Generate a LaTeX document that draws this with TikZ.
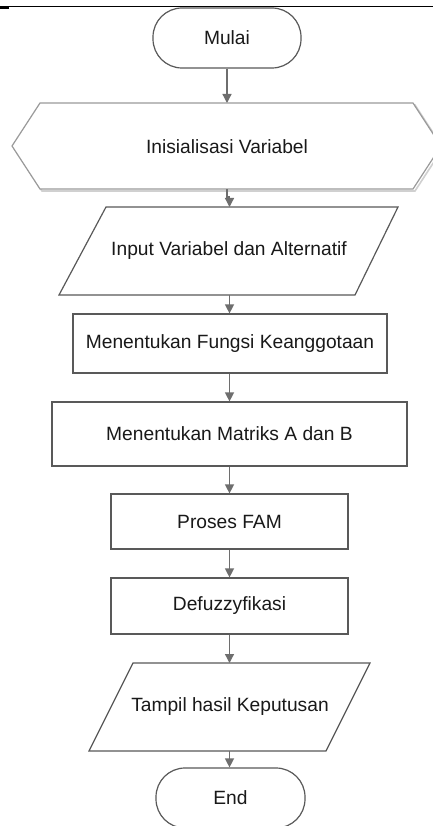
\documentclass[tikz,border=0pt]{standalone}
\usepackage{fontspec}
\setmainfont{Liberation Sans}
\usetikzlibrary{arrows.meta}
\definecolor{boxc}{HTML}{595959}
\definecolor{arrc}{HTML}{6E6E6E}
\definecolor{hexc}{HTML}{9A9A9A}
\definecolor{hexsh}{HTML}{D0D0D0}
\begin{document}
\begin{tikzpicture}[x=1pt,y=-1pt,
  txt/.style={inner sep=0pt, font=\fontsize{19.2}{23}\selectfont, text=black!90},
  box/.style={txt, draw=boxc, line width=1.2pt, fill=white},
  term/.style={box, rounded corners=29pt},
  shapeline/.style={draw=boxc, line width=1.2pt, fill=white},
  arr/.style={draw=arrc, line width=1.3pt, -{Triangle[width=9pt,length=9pt]}}]
\useasboundingbox (0,0) rectangle (433,826);
\clip (0,0) rectangle (433,826);
\fill[white] (0,0) rectangle (433,826);
% top rule
\draw[black, line width=1pt] (0,7) -- (433,7);
\fill[black] (0,7) rectangle (9,9.5);

% terminator start
\node[term, minimum width=148pt, minimum height=60pt] (mulai) at (227,38) {Mulai};

% hexagon (preparation)
\draw[hexsh, line width=1.6pt] (14,148) -- (42,105) -- (415,105) -- (443,148) -- (415,191) -- (42,191) -- cycle;
\draw[hexc, line width=1.2pt, fill=white] (12,146) -- (40,103) -- (413,103) -- (441,146) -- (413,189) -- (40,189) -- cycle;
\node[txt] (hex) at (227,147) {Inisialisasi Variabel};
\coordinate (hexTop) at (227,103);
\coordinate (hexBot) at (227,189.5);

% input parallelogram
\draw[shapeline] (106,207) -- (398,207) -- (355,295) -- (59,295) -- cycle;
\node[txt] (input) at (229,251) {Input Variabel dan Alternatif};
\coordinate (inTop) at (229.5,207);
\coordinate (inBot) at (229.5,295);

% process boxes
\node[box, minimum width=314pt, minimum height=59pt] (fungsi) at (230,343.5) {Menentukan Fungsi Keanggotaan};
\node[box, minimum width=355pt, minimum height=64pt] (matriks) at (229.5,434) {Menentukan Matriks A dan B};
\node[box, minimum width=237pt, minimum height=55pt] (fam) at (229.5,521.5) {Proses FAM};
\node[box, minimum width=237pt, minimum height=56pt] (defuz) at (229.5,606) {Defuzzyfikasi};

% output parallelogram
\draw[shapeline] (133,663) -- (370,663) -- (326,751) -- (89,751) -- cycle;
\node[txt] (output) at (230,707) {Tampil hasil Keputusan};
\coordinate (outTop) at (229.5,663);
\coordinate (outBot) at (229.5,751);

% terminator end
\node[term, minimum width=149pt, minimum height=60pt] (end) at (230.5,798) {End};

% connectors
\draw[arr] (mulai.south) -- (hexTop);
\draw[arr] (hexBot) -- ++(0,7.5) -| (inTop);
\draw[arr] (inBot) -- (inBot |- fungsi.north);
\draw[arr] (fungsi.south -| matriks.north) -- (matriks.north);
\draw[arr] (matriks.south) -- (fam.north);
\draw[arr] (fam.south) -- (defuz.north);
\draw[arr] (defuz.south) -- (outTop);
\draw[arr] (outBot) -- (outBot |- end.north);
\end{tikzpicture}
\end{document}
